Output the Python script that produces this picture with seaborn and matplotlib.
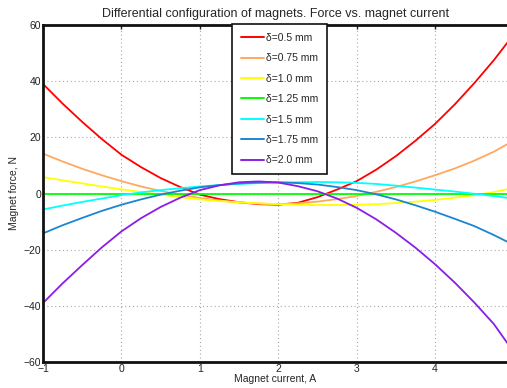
import numpy as np
import pandas as pd
import matplotlib
matplotlib.use("Agg")
import matplotlib.pyplot as plt
import seaborn as sns

current = [-1.0, -0.75, -0.5, -0.25, 0.0, 0.25, 0.5, 0.75, 1.0, 1.25, 1.5, 1.75, 2.0,
           2.25, 2.5, 2.75, 3.0, 3.25, 3.5, 3.75, 4.0, 4.25, 4.5, 4.75, 4.93]
f_050 = [39.0, 32.0, 25.5, 19.4, 13.8, 9.4, 5.5, 2.3, -0.4, -2.0, -3.1, -3.8, -4.0,
         -3.3, -1.3, 1.4, 4.4, 8.5, 13.3, 18.8, 24.8, 31.7, 39.3, 47.5, 54.0]
f_075 = [14.2, 11.4, 8.8, 6.5, 4.4, 2.5, 0.9, -0.4, -1.6, -2.5, -3.2, -3.6, -3.8,
         -3.5, -2.9, -2.0, -0.9, 0.6, 2.3, 4.3, 6.5, 8.9, 11.7, 14.9, 17.7]
f_100 = [5.8, 4.7, 3.6, 2.5, 1.5, 0.5, -0.4, -1.3, -2.1, -2.7, -3.1, -3.5, -3.8,
         -4.0, -4.1, -4.1, -4.0, -3.8, -3.4, -2.9, -2.3, -1.5, -0.6, 0.5, 1.6]
f_125 = [0.0] * 25
f_150 = [-5.7, -4.3, -3.0, -1.8, -0.6, 0.4, 1.2, 1.9, 2.5, 3.0, 3.4, 3.7, 3.9,
         4.0, 4.1, 4.0, 3.8, 3.4, 2.8, 2.1, 1.4, 0.7, -0.1, -0.9, -1.6]
f_175 = [-14.2, -11.3, -8.7, -6.2, -4.0, -2.1, -0.4, 1.0, 2.2, 3.0, 3.6, 3.9, 4.0,
         3.7, 3.2, 2.3, 1.2, -0.3, -2.1, -4.2, -6.5, -9.0, -11.6, -14.8, -17.3]
f_200 = [-39.0, -32.0, -25.5, -19.2, -13.5, -8.8, -4.8, -1.5, 1.2, 2.9, 4.0, 4.3, 3.9,
         2.6, 0.8, -1.8, -5.1, -9.2, -14.0, -19.3, -25.2, -31.7, -38.8, -46.5, -53.6]

labels = ["δ=0.5 mm", "δ=0.75 mm", "δ=1.0 mm", "δ=1.25 mm", "δ=1.5 mm", "δ=1.75 mm", "δ=2.0 mm"]
series = [f_050, f_075, f_100, f_125, f_150, f_175, f_200]
colors = ["#ff0000", "#ffa860", "#ffff00", "#00ff00", "#00ffff", "#1a86d0", "#8a1ee6"]

x_ticks = [-1, 0, 1, 2, 3, 4]
y_ticks = [-60, -40, -20, 0, 20, 40, 60]

rows = []
for lab, vals in zip(labels, series):
    for xv, yv in zip(current, vals):
        rows.append({"I": xv, "F": yv, "gap": lab})
df = pd.DataFrame(rows)

sns.set_theme(style="white")
plt.rcParams["font.family"] = ["Liberation Sans", "DejaVu Sans"]

fig = plt.figure(figsize=(5.07, 3.88), dpi=100)
ax = fig.add_axes([43 / 507, 1 - 362 / 388, 1 - 43 / 507 + 0.002, (362 - 25) / 388])

sns.lineplot(data=df, x="I", y="F", hue="gap", hue_order=labels,
             palette=dict(zip(labels, colors)), linewidth=1.3, ax=ax,
             sort=True, estimator=None)

ax.set_xlim(-1, 4.93)
ax.set_ylim(-60, 60)
ax.set_xticks(x_ticks)
ax.set_yticks(y_ticks)
ax.set_xticklabels([str(t).replace("-", "\u2212") for t in x_ticks])
ax.set_yticklabels([str(t).replace("-", "\u2212") for t in y_ticks])
ax.grid(True, linestyle=(0, (1, 2.5)), color="#a8a8a8", linewidth=0.8)
ax.tick_params(direction="in", length=3, width=1, labelsize=7.5, pad=1.5,
               top=True, right=False, colors="#222222")
for side in ["left", "bottom", "top"]:
    ax.spines[side].set_linewidth(2)
    ax.spines[side].set_color("#111111")
ax.spines["right"].set_visible(False)

ax.set_xlabel("Magnet current, A", fontsize=7.5, labelpad=0)
ax.set_ylabel("Magnet force, N", fontsize=7.5, labelpad=3)
ax.set_title("Differential configuration of magnets. Force vs. magnet current",
             fontsize=9, pad=6)

leg = ax.legend(loc="upper left", bbox_to_anchor=(232 / 507, 1 - 24 / 388),
                bbox_transform=fig.transFigure, fontsize=7.5, frameon=True,
                fancybox=False, edgecolor="#111111", framealpha=1,
                labelspacing=1.0, handlelength=2.2, handletextpad=0.25,
                borderpad=0.85, borderaxespad=0)
leg.get_frame().set_linewidth(1.2)
for line in leg.get_lines():
    line.set_linewidth(1.4)

fig.savefig("out.png", dpi=100)
